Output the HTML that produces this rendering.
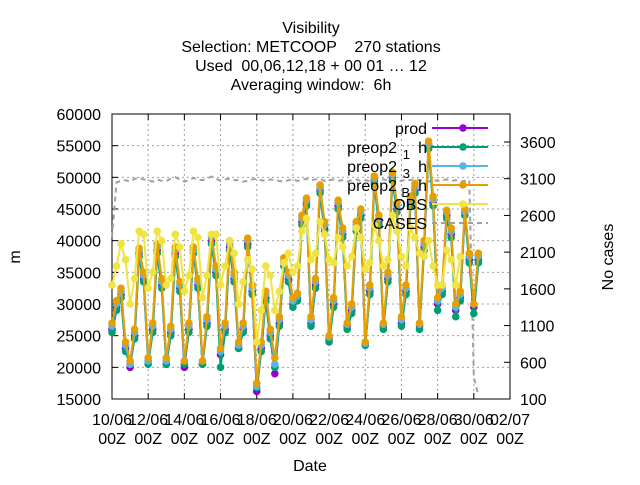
<!DOCTYPE html>
<html><head><meta charset="utf-8"><style>
body{margin:0;background:#fff}
svg{font-family:"Liberation Sans",sans-serif;font-size:16px}
text{white-space:pre}
</style></head><body>
<svg id="c" width="640" height="480" viewBox="0 0 640 480">
<g text-anchor="middle" fill="#000">
<text x="311" y="33">Visibility</text>
<text x="311" y="52" xml:space="preserve">Selection: METCOOP    270 stations</text>
<text x="311" y="71" xml:space="preserve">Used  00,06,12,18 + 00 01 … 12</text>
<text x="311" y="90" xml:space="preserve">Averaging window:  6h</text>
</g>
<g id="grid"></g>
<g id="axes"></g>
<g id="series"></g>
<g id="legend"></g>
<text x="20" y="257" transform="rotate(-90 20 257)" text-anchor="middle">m</text>
<text x="613" y="257" transform="rotate(-90 613 257)" text-anchor="middle">No cases</text>
<text x="310" y="471" text-anchor="middle">Date</text>
</svg>
<script>
const xTickLabels=["10/06","12/06","14/06","16/06","18/06","20/06","22/06","24/06","26/06","28/06","30/06","02/07"];
const yTicks=[15000,20000,25000,30000,35000,40000,45000,50000,55000,60000];
const y2Ticks=[100,600,1100,1600,2100,2600,3100,3600];
const seriesB=[27000,30500,32500,24000, 21000,26000,38800,35000, 21500,27000,39500,34000, 21500,26500,39000,33500, 21000,27000,39000,34000, 21000,28000,40900,36000, 23000,27000,40000,35000, 24000,27000,40400,33000, 17500,24000,32000,26000, 21500,28000,37300,35000, 31000,31700,44000,46700, 28000,34000,48800,43000, 25000,31000,46400,42000, 27000,30000,43000,45000, 24000,33000,50200,44000, 27000,35000,50800,46000, 28000,33000,47000,49000, 27000,40000,55700,47000, 31000,33000,44800,42000, 30000,32000,45000,38000, 30000,38000];
const seriesProd=[26000,29500,31500,23000, 20000,25000,38000,34000, 21000,26000,38500,33000, 20500,25500,38000,32500, 20000,26000,38500,33000, 20500,27000,40000,35000, 22000,26000,39000,34000, 23000,26000,39500,32000, 16200,23000,31000,25000, 19000,27000,36500,34000, 30000,31000,43000,46000, 27000,33000,48000,42000, 24500,30000,45500,41000, 26500,29000,42000,44000, 23500,32000,49500,43000, 26500,34000,50000,45000, 27000,32000,46000,48000, 26500,39000,55000,46000, 30000,32000,44000,41000, 29000,31000,44500,37000, 29500,37000];
const series1h=[25500,29000,31000,22500, 20500,24500,37500,33500, 20500,25500,38000,32500, 20500,25000,37500,32000, 20500,25500,38000,32500, 20500,26500,39500,34500, 20000,25500,38500,33500, 23000,25500,39000,31500, 16800,22500,30500,24500, 20000,26500,36000,33500, 29500,30500,42500,45500, 26500,32500,47500,41500, 24000,29500,45000,40500, 26000,28500,41500,43500, 23500,31500,49000,42500, 26000,33500,49500,44500, 26500,31500,45500,47500, 26000,38500,54500,45500, 29000,31500,43500,40500, 28000,30500,44000,36500, 28500,36500];
const series3h=[26500,30000,32000,23500, 20500,25500,38300,34500, 21000,26500,39000,33500, 21000,26000,38500,33000, 21000,26500,38500,33500, 21000,27500,40500,35500, 22500,26500,39500,34500, 23500,26500,40000,32500, 17000,23500,31500,25500, 20500,27500,36800,34500, 30500,31300,43500,46300, 27500,33500,48400,42500, 24800,30500,46000,41500, 26800,29500,42500,44500, 23800,32500,49800,43500, 26800,34500,50400,45500, 27500,32500,46500,48500, 26800,39500,55300,46500, 30500,32500,44400,41500, 29500,31500,44600,37500, 30000,37500];
const seriesObs=[33000,36000,39500,37000, 30000,34000,41500,41000, 32500,35000,41500,40000, 33000,34000,41000,39000, 32000,34500,41500,40500, 31000,34500,41000,41000, 33000,36000,40000,38000, 30000,33500,37000,35500, 24000,29000,36000,34500, 29000,32000,36500,38000, 35000,36000,41500,43500, 37000,38000,43000,41000, 37000,36500,40500,39000, 36000,37500,42000,40500, 35500,36500,42500,40000, 36000,37000,44000,41500, 37500,36000,42000,40500, 38000,37500,40000,36000, 33000,33000,38500,37000, 33000,37500];
const casesVals=[2300,3050,3070,3080, 3060,3100,3110,3090, 3080,3060,3090,3070, 3070,3100,3120,3090, 3060,3080,3110,3090, 3080,3100,3130,3100, 3070,3090,3100,3080, 3080,3060,3070,3090, 3100,3080,3070,3090, 3080,3070,3060,3080, 3090,3070,3080,3100, 3080,3090,3100,3070, 3080,3090,3070,3080, 3060,3080,3090,3070, 3080,3070,3090,3100, 3090,3080,3070,3060, 3070,3090,3080,3100, 3080,3070,3060,3080, 3070,3080,3090,3070, 3080,3060,3070,3080, 400,150];

const L=112,R=510,T=114,B=399;
const x=i=>L+(i*0.25)*(R-L)/22;
const y=v=>B-(v-15000)*(B-T)/45000;
const y2=v=>B-(v-100)*(B-142)/3500;
const NS="http://www.w3.org/2000/svg";
function mk(tag,attrs,parent){const e=document.createElementNS(NS,tag);for(const k in attrs)e.setAttribute(k,attrs[k]);parent.appendChild(e);return e;}
const grid=document.getElementById('grid'),axes=document.getElementById('axes'),ser=document.getElementById('series'),leg=document.getElementById('legend');
xTickLabels.forEach((lab,k)=>{
  const xx=L+k*2*(R-L)/22;
  if(k>0&&k<xTickLabels.length-1){const g=mk('line',{x1:xx,x2:xx,y1:T,y2:B,stroke:'#a0a0a0','stroke-dasharray':'2,3'},grid);
  
  }
  mk('line',{x1:xx,x2:xx,y1:B,y2:B-6,stroke:'#000'},axes);
  mk('line',{x1:xx,x2:xx,y1:T,y2:T+6,stroke:'#000'},axes);
  const t=mk('text',{x:xx,y:425,'text-anchor':'middle'},axes);t.textContent=lab;
  
  
  const t2=mk('text',{x:xx,y:444,'text-anchor':'middle'},axes);t2.textContent='00Z';
  
  
});
yTicks.forEach(v=>{
  const yy=y(v);
  if(v>15000&&v<60000){const g=mk('line',{x1:L,x2:R,y1:yy,y2:yy,stroke:'#a0a0a0','stroke-dasharray':'2,3'},grid);
  
  }
  mk('line',{x1:L,x2:L+6,y1:yy,y2:yy,stroke:'#000'},axes);
  const t=mk('text',{x:101,y:yy+6,'text-anchor':'end'},axes);t.textContent=v;
  
  
});
y2Ticks.forEach(v=>{
  const yy=y2(v);
  mk('line',{x1:R,x2:R-6,y1:yy,y2:yy,stroke:'#000'},axes);
  const t=mk('text',{x:520,y:yy+6},axes);t.textContent=v;
  
  
});
const frame=mk('rect',{x:L,y:T,width:R-L,height:B-T,fill:'none',stroke:'#000'},axes);



const cp=mk('polyline',{points:casesVals.map((v,i)=>x(i)+','+y2(v)).join(' '),fill:'none',stroke:'#a0a0a0','stroke-width':2,'stroke-dasharray':'5,4'},ser);



const defs=[["prod",seriesProd,"#9400d3"],["preop2 1h",series1h,"#009e73"],["preop2 3h",series3h,"#56b4e9"],["preop2 Bh",seriesB,"#e69f00"],["OBS",seriesObs,"#f0e442"]];
defs.forEach(([name,vals,col])=>{
  const g=mk('g',{},ser);
  
  
  mk('polyline',{points:vals.map((v,i)=>x(i)+','+y(v)).join(' '),fill:'none',stroke:col,'stroke-width':2},g);
  vals.forEach((v,i)=>{const c=mk('circle',{cx:x(i),cy:y(v),r:3.8,fill:col},g);
  
  });
});

const legRows=[["prod","#9400d3",null,false],["preop2 ","#009e73","1",false],["preop2 ","#56b4e9","3",false],["preop2 ","#e69f00","B",false],["OBS","#f0e442",null,false],["CASES","#a0a0a0",null,true]];
legRows.forEach(([a,col,sub,dash],k)=>{
  const yy=128+k*19;
  const g=mk('g',{},leg);
  
  
  if(sub){
    const t=mk('text',{x:427,y:yy+6,'text-anchor':'end'},g);t.textContent='h';
    const s=mk('text',{x:410,y:yy+12,'text-anchor':'end','font-size':13},g);s.textContent=sub;
    const t2=mk('text',{x:397,y:yy+6,'text-anchor':'end'},g);t2.textContent='preop2';
  } else {
    const t=mk('text',{x:427,y:yy+6,'text-anchor':'end'},g);t.textContent=a;
  }
  if(dash){mk('line',{x1:432,x2:488,y1:yy,y2:yy,stroke:col,'stroke-width':2,'stroke-dasharray':'5,4'},g);}
  else{mk('line',{x1:432,x2:488,y1:yy,y2:yy,stroke:col,'stroke-width':2},g);mk('circle',{cx:463,cy:yy,r:3.8,fill:col},g);}
});
</script>
</body></html>
